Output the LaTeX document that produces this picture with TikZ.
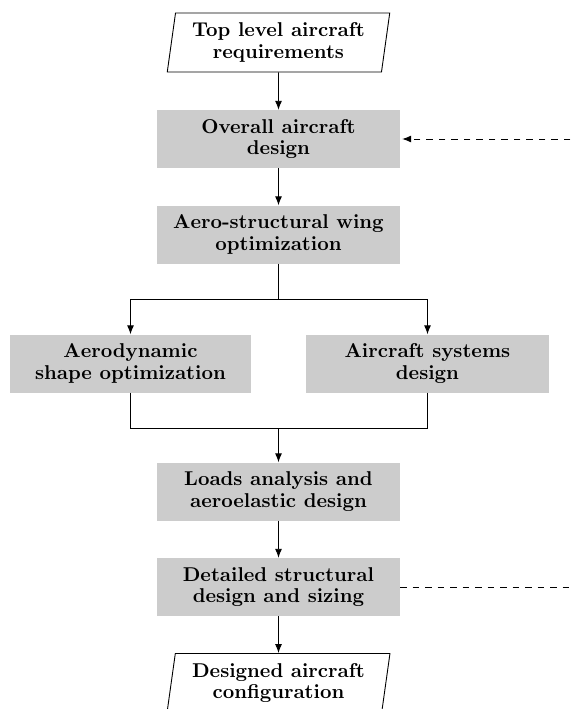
\documentclass[tikz,border=0pt]{standalone}
\usetikzlibrary{shapes.geometric,arrows.meta}
\font\bxten=cmbx10 at 20pt
\begin{document}
\begin{tikzpicture}[x=1pt,y=-1pt,
  every node/.style={font={\fontsize{20}{21.5}\selectfont\bxten}, align=center},
  proc/.style={fill=gray!40, minimum width=243pt, minimum height=58pt, inner sep=0pt},
  io/.style={draw, line width=0.9pt, trapezium, trapezium left angle=80, trapezium right angle=100,
     trapezium stretches=true, minimum width=223pt, minimum height=59pt, inner sep=0pt},
  arr/.style={-{Latex[length=9pt,width=7pt]}, line width=0.9pt},
  ln/.style={line width=0.9pt},
  fb/.style={line width=0.9pt, dash pattern=on 6.5pt off 6pt}]
\useasboundingbox (0,0) rectangle (574,709);
\clip (0,0) rectangle (574,709);
\node[io] (req) at (278.5,42.5) {Top level aircraft\\requirements};
\node[proc] (oad) at (278.5,139) {Overall aircraft\\design};
\node[proc] (asw) at (278.5,234.5) {Aero-structural wing\\optimization};
\node[proc, minimum width=241pt] (aso) at (130.5,363.5) {Aerodynamic\\shape optimization};
\node[proc] (sys) at (427.5,363.5) {Aircraft systems\\design};
\node[proc] (lad) at (278.5,491.5) {Loads analysis and\\aeroelastic design};
\node[proc] (dsd) at (278.5,587) {Detailed structural\\design and sizing};
\node[io] (dac) at (278.5,683) {Designed aircraft\\configuration};
\coordinate (split) at (278.5,299);
\coordinate (join) at (278.5,428);
\coordinate (fbA) at (580,587);
\coordinate (fbB) at (580,139);
\draw[arr] (req) -- (oad);
\draw[arr] (oad) -- (asw);
\draw[ln] (asw) -- (split);
\draw[arr] (split) -| (aso);
\draw[arr] (split) -| (sys);
\draw[ln] (aso) |- (join);
\draw[ln] (sys) |- (join);
\draw[arr] (join) -- (lad);
\draw[arr] (lad) -- (dsd);
\draw[arr] (dsd) -- (dac);
\draw[fb, arr, shorten >=2pt] (dsd.east) -- (fbA) -- (fbB) -- (oad.east);
\end{tikzpicture}
\end{document}
